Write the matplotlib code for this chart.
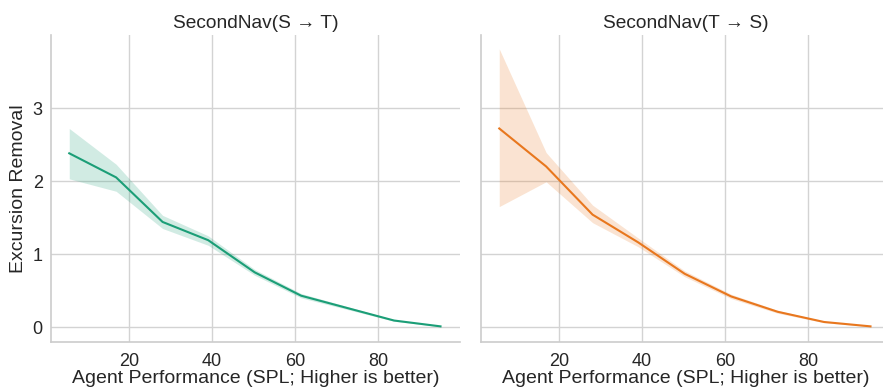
import matplotlib
matplotlib.use("Agg")
import matplotlib.pyplot as plt
import numpy as np

plt.rcParams['font.family'] = ['Liberation Sans', 'DejaVu Sans']

# Binned agent performance (SPL) and mean excursion removal with CI bands
spl = [5.6, 16.9, 28.1, 39.1, 50.3, 61.5, 72.7, 83.9, 95.1]

st_mean = [2.38, 2.05, 1.44, 1.19, 0.75, 0.43, 0.26, 0.09, 0.01]
st_low = [2.03, 1.86, 1.35, 1.12, 0.71, 0.40, 0.24, 0.08, 0.005]
st_high = [2.72, 2.23, 1.53, 1.25, 0.79, 0.46, 0.28, 0.10, 0.015]

ts_mean = [2.72, 2.20, 1.54, 1.16, 0.73, 0.42, 0.21, 0.07, 0.01]
ts_low = [1.65, 1.99, 1.43, 1.10, 0.69, 0.39, 0.19, 0.06, 0.005]
ts_high = [3.81, 2.39, 1.67, 1.22, 0.77, 0.45, 0.23, 0.08, 0.015]

titles = ["SecondNav(S \u2192 T)", "SecondNav(T \u2192 S)"]
colors = ["#1b9e77", "#e8771e"]
xlabel = "Agent Performance (SPL; Higher is better)"
ylabel = "Excursion Removal"
xticks = [20, 40, 60, 80]
yticks = [0, 1, 2, 3]

W, H = 883, 390
fig = plt.figure(figsize=(W / 100, H / 100), dpi=100)

def frac_rect(x0, x1, y_top, y_bot):
    return [x0 / W, 1 - y_bot / H, (x1 - x0) / W, (y_bot - y_top) / H]

ax1 = fig.add_axes(frac_rect(51, 460, 35, 341.7))
ax2 = fig.add_axes(frac_rect(481, 890, 35, 341.7), sharey=ax1)

series = [(st_mean, st_low, st_high), (ts_mean, ts_low, ts_high)]
for ax, title, color, (m, lo, hi) in zip([ax1, ax2], titles, colors, series):
    ax.fill_between(spl, lo, hi, color=color, alpha=0.2, linewidth=0)
    ax.plot(spl, m, color=color, linewidth=1.5)
    ax.set_title(title, fontsize=13.8, color="#262626", pad=5)
    ax.set_xlim(1.2, 99.8)
    ax.set_ylim(-0.2, 4.0)
    ax.set_xticks(xticks)
    ax.set_yticks(yticks)
    ax.grid(True, color="#d3d3d3", linewidth=1.0)
    ax.set_axisbelow(True)
    for side in ["top", "right"]:
        ax.spines[side].set_visible(False)
    for side in ["left", "bottom"]:
        ax.spines[side].set_color("#cccccc")
        ax.spines[side].set_linewidth(1.2)
    ax.tick_params(axis="x", length=0, labelsize=13, colors="#262626", pad=8)
    ax.tick_params(axis="y", length=0, labelsize=13, colors="#262626", pad=6)
    ax.set_xlabel(xlabel, fontsize=14.0, color="#262626", labelpad=0)

ax1.set_ylabel(ylabel, fontsize=14.0, color="#262626", labelpad=4)
plt.setp(ax2.get_yticklabels(), visible=False)

fig.savefig("out.png", dpi=100)
